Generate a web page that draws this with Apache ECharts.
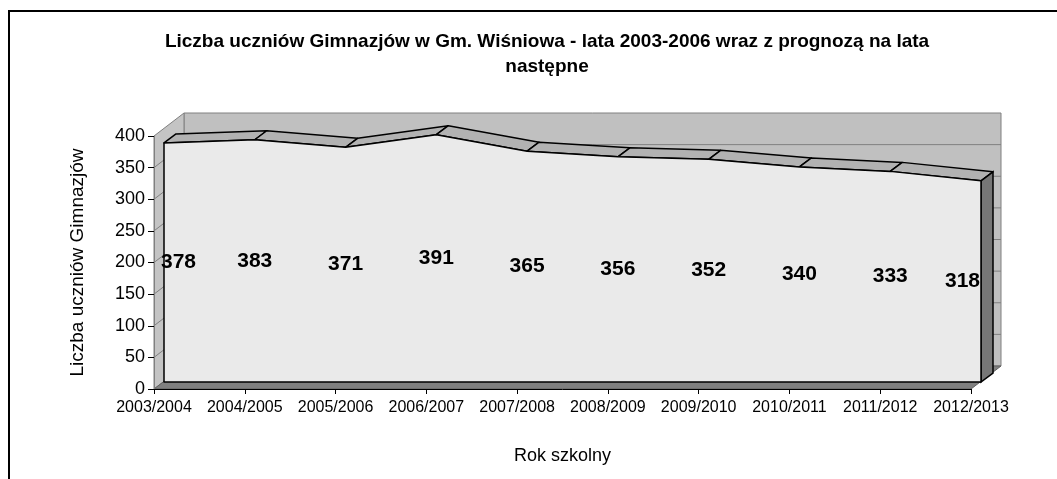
<!DOCTYPE html>
<html><head><meta charset="utf-8">
<script src="https://cdn.jsdelivr.net/npm/echarts@6/dist/echarts.min.js"></script>
<style>html,body{margin:0;padding:0;background:#fff}#c{width:1057px;height:479px}</style>
</head><body><div id="c"></div>
<script>
const categories = ['2003/2004','2004/2005','2005/2006','2006/2007','2007/2008','2008/2009','2009/2010','2010/2011','2011/2012','2012/2013'];
const values = [378,383,371,391,365,356,352,340,333,318];
const yMin = 0, yMax = 400, yStep = 50;
const titleText = 'Liczba uczniów Gimnazjów w Gm. Wiśniowa - lata 2003-2006 wraz z prognozą na lata\nnastępne';
const yName = 'Liczba uczniów Gimnazjów';
const xName = 'Rok szkolny';

// 3D depth offsets (pixels)
const F = [10, -7], B = [22, -16], D = [30, -23];
const FONT = '"Liberation Sans", Arial, sans-serif';

function off(p, o) { return [p[0] + o[0], p[1] + o[1]]; }

function renderScene(params, api) {
  const n = values.length - 1;
  const c = (i, v) => api.coord([i, v]);
  const kids = [];
  // back wall
  const bw = [off(c(0, yMax), D), off(c(n, yMax), D), off(c(n, yMin), D), off(c(0, yMin), D)];
  kids.push({type: 'polygon', shape: {points: bw}, style: {fill: '#c0c0c0', stroke: '#808080', lineWidth: 1}});
  // left wall
  const lw = [c(0, yMin), c(0, yMax), off(c(0, yMax), D), off(c(0, yMin), D)];
  kids.push({type: 'polygon', shape: {points: lw}, style: {fill: '#c4c4c4', stroke: '#808080', lineWidth: 1}});
  // grid lines
  for (let v = yMin + yStep; v < yMax; v += yStep) {
    const a = off(c(0, v), D), b = off(c(n, v), D);
    kids.push({type: 'line', shape: {x1: a[0], y1: a[1], x2: b[0], y2: b[1]}, style: {stroke: '#808080', lineWidth: 1}});
    const p = c(0, v);
    kids.push({type: 'line', shape: {x1: p[0], y1: p[1], x2: a[0], y2: a[1]}, style: {stroke: '#808080', lineWidth: 1}});
  }
  // floor
  const fl = [c(0, yMin), c(n, yMin), off(c(n, yMin), D), off(c(0, yMin), D)];
  kids.push({type: 'polygon', shape: {points: fl}, style: {fill: '#808080', stroke: '#606060', lineWidth: 1}});
  // top ribbons
  for (let i = 0; i < n; i++) {
    const p1 = c(i, values[i]), p2 = c(i + 1, values[i + 1]);
    kids.push({type: 'polygon', shape: {points: [off(p1, F), off(p2, F), off(p2, B), off(p1, B)]},
      style: {fill: '#b2b2b2', stroke: '#000', lineWidth: 1.5, lineJoin: 'round'}});
  }
  // right side face
  const pe = c(n, values[n]), pz = c(n, yMin);
  kids.push({type: 'polygon', shape: {points: [off(pe, F), off(pz, F), off(pz, B), off(pe, B)]},
    style: {fill: '#777777', stroke: '#000', lineWidth: 1.5}});
  // front face
  const pts = values.map((v, i) => off(c(i, v), F));
  pts.push(off(c(n, yMin), F));
  pts.push(off(c(0, yMin), F));
  kids.push({type: 'polygon', shape: {points: pts}, style: {fill: '#eaeaea', stroke: '#000', lineWidth: 1.5, lineJoin: 'round'}});
  // value labels
  values.forEach((v, i) => {
    const p = off(c(i, v / 2), F);
    let align = 'center', x = p[0];
    if (i === 0) { align = 'left'; x = p[0] - 3; }
    if (i === n) { align = 'right'; x = p[0] - 1; }
    kids.push({type: 'text', style: {text: String(v), x: x, y: p[1], align: align, verticalAlign: 'middle',
      font: 'bold 21px ' + FONT, fill: '#000'}});
  });
  return {type: 'group', children: kids};
}

const chart = echarts.init(document.getElementById('c'));
chart.setOption({
  backgroundColor: '#fff',
  animation: false,
  title: {text: titleText, left: 542, top: 24, textAlign: 'center',
    textStyle: {fontFamily: FONT, fontSize: 19, fontWeight: 'bold', color: '#000', lineHeight: 25}},
  graphic: [{type: 'rect', shape: {x: 9, y: 11, width: 1100, height: 520}, style: {fill: 'none', stroke: '#000', lineWidth: 2}, z: -1}],
  grid: {left: 154, right: 86, top: 136, bottom: 90},
  xAxis: {type: 'category', data: categories, boundaryGap: false,
    name: xName, nameLocation: 'middle', nameGap: 58,
    nameTextStyle: {fontFamily: FONT, fontSize: 18, color: '#000'},
    axisLine: {lineStyle: {color: '#000', width: 1}},
    axisTick: {alignWithLabel: true, length: 5, lineStyle: {color: '#000'}},
    axisLabel: {fontFamily: FONT, fontSize: 16, color: '#000', margin: 11, interval: 0},
    splitLine: {show: false}, z: 10},
  yAxis: {type: 'value', min: yMin, max: yMax, interval: yStep,
    name: yName, nameLocation: 'middle', nameGap: 67, nameRotate: 90,
    nameTextStyle: {fontFamily: FONT, fontSize: 19, color: '#000'},
    axisLine: {show: true, lineStyle: {color: '#808080', width: 1}},
    axisTick: {show: true, length: 6, lineStyle: {color: '#000'}},
    axisLabel: {fontFamily: FONT, fontSize: 18, color: '#000', margin: 9},
    splitLine: {show: false}, z: 10},
  series: [{type: 'custom', coordinateSystem: 'cartesian2d', data: [[0, 0]], renderItem: renderScene, clip: false, silent: true, z: 2}]
});
</script></body></html>
